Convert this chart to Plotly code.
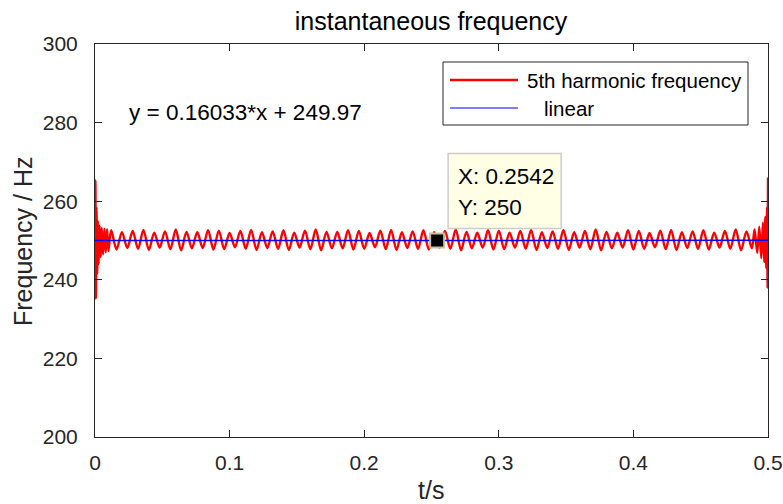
import numpy as np
import plotly.graph_objects as go

# start-up transient of the estimated frequency (t in s, f in Hz)
t_start = [0, 0.0003, 0.0007, 0.0011, 0.0016, 0.0021, 0.0027, 0.0034,
           0.0042, 0.0050, 0.0060, 0.0070, 0.0080, 0.0090, 0.0100]
f_start = [250.0, 265.3, 235.2, 258.5, 241.5, 255.0, 244.0, 253.8,
           245.8, 253.2, 246.5, 253.0, 247.0, 252.9, 247.3]

# steady ripple: peaks and troughs every 4 ms from 12 ms to 488 ms
osc_t0 = 0.012
osc_dt = 0.004
peaks = [252.6, 252.1, 252.4, 252.7, 252.0, 252.3, 252.8, 252.2, 252.1, 252.6,
         252.5, 251.9, 252.4, 252.7, 252.1, 252.3, 252.6, 252.0, 252.5, 252.8,
         252.2, 252.2, 252.6, 252.4, 251.9, 252.5, 252.7, 252.1, 252.3, 252.6,
         252.1, 252.4, 252.8, 252.2, 252.0, 252.6, 252.5, 252.0, 252.4, 252.7,
         252.1, 252.3, 252.7, 252.1, 252.4, 252.8, 252.2, 252.0, 252.6, 252.4,
         251.9, 252.5, 252.7, 252.1, 252.3, 252.6, 252.0, 252.4, 252.8, 252.3]
troughs = [247.7, 248.1, 247.9, 247.6, 248.2, 247.8, 247.5, 248.0, 248.1, 247.7,
           247.8, 248.3, 247.9, 247.6, 248.1, 247.9, 247.6, 248.2, 247.8, 247.5,
           248.0, 248.0, 247.7, 247.9, 248.3, 247.8, 247.6, 248.1, 247.9, 247.7,
           248.2, 247.9, 247.5, 248.0, 248.2, 247.7, 247.8, 248.2, 247.9, 247.6,
           248.1, 247.9, 247.6, 248.2, 247.8, 247.5, 248.0, 248.2, 247.7, 247.9,
           248.3, 247.8, 247.6, 248.1, 247.9, 247.7, 248.2, 247.9, 247.5, 248.0]

# end transient
t_end = [0.4900, 0.4920, 0.4935, 0.4950, 0.4962, 0.4972, 0.4980, 0.4987,
         0.4993, 0.4997, 0.5000]
f_end = [252.8, 246.8, 253.5, 245.5, 254.5, 244.5, 256.0, 243.0,
         258.5, 238.0, 266.0]

# linear fit y = a*x + b
fit_a = 0.16033
fit_b = 249.97
fit_x = [0, 0.5]

# data tip
tip_x = 0.2542
tip_y = 250

osc_f = [v for pair in zip(peaks, troughs) for v in pair]
osc_t = list(osc_t0 + osc_dt * np.arange(len(osc_f)))

t = t_start + osc_t + t_end
f = f_start + osc_f + f_end
fit_y = [fit_a * x + fit_b for x in fit_x]

FONT = "Liberation Sans, Arial, Helvetica, sans-serif"
AX = "#262626"
RED = "#FF0000"
BLUE = "#0000FF"

# plot area in pixels (left, right, top, bottom)
L, R, T, B = 95, 768, 44, 437


def px(x):
    return (x - L) / (R - L)


def py(y):
    return (B - y) / (B - T)


fig = go.Figure()

fig.add_trace(go.Scatter(
    x=t, y=f, mode="lines", name="5th harmonic frequency", showlegend=False,
    line=dict(color=RED, width=2.4, shape="spline", smoothing=0.9),
))
fig.add_trace(go.Scatter(
    x=fit_x, y=fit_y, mode="lines", name="linear", showlegend=False,
    line=dict(color=BLUE, width=1.5),
))
fig.add_trace(go.Scatter(
    x=[tip_x], y=[tip_y], mode="markers", showlegend=False,
    marker=dict(symbol="square", size=14, color="black",
                line=dict(color="#C8C0A0", width=2)),
))

# legend box drawn like MATLAB's (long line samples)
fig.add_shape(type="rect", xref="paper", yref="paper",
              x0=px(443), x1=px(748), y0=py(125), y1=py(62),
              fillcolor="white", line=dict(color=AX, width=1), layer="above")
legend_items = [("5th harmonic frequency", RED, 2.4, 80, 525),
                ("linear", BLUE, 1.2, 108, 542)]
for label, color, lw, yc, xt in legend_items:
    fig.add_shape(type="line", xref="paper", yref="paper",
                  x0=px(450), x1=px(518), y0=py(yc), y1=py(yc),
                  line=dict(color=color, width=lw), layer="above")
    fig.add_annotation(x=px(xt), y=py(yc), xref="paper", yref="paper", text=label,
                       showarrow=False, xanchor="left", yanchor="middle",
                       font=dict(family=FONT, size=20.5, color="black"))

# data tip box
fig.add_shape(type="rect", xref="x", yref="y", xsizemode="pixel", ysizemode="pixel",
              xanchor=tip_x, yanchor=tip_y, x0=11, x1=124, y0=12, y1=87,
              fillcolor="#FFFFE6", line=dict(color="#CCCCCC", width=1.5), layer="above")
fig.add_annotation(x=tip_x, y=tip_y, xref="x", yref="y", text="X: 0.2542",
                   showarrow=False, xanchor="left", yanchor="middle",
                   xshift=19, yshift=64, font=dict(family=FONT, size=22.5, color="black"))
fig.add_annotation(x=tip_x, y=tip_y, xref="x", yref="y", text="Y: 250",
                   showarrow=False, xanchor="left", yanchor="middle",
                   xshift=19, yshift=33, font=dict(family=FONT, size=22.5, color="black"))

# fit equation
fig.add_annotation(x=px(127), y=py(113), xref="paper", yref="paper",
                   text="y = 0.16033*x + 249.97", showarrow=False,
                   xanchor="left", yanchor="middle",
                   font=dict(family=FONT, size=22.5, color="black"))

# axis titles
fig.add_annotation(x=px(23), y=py(241), xref="paper", yref="paper",
                   text="Frequency / Hz", showarrow=False, textangle=-90,
                   xanchor="center", yanchor="middle",
                   font=dict(family=FONT, size=25, color=AX))
fig.add_annotation(x=px(431), y=py(490), xref="paper", yref="paper", text="t/s",
                   showarrow=False, xanchor="center", yanchor="middle",
                   font=dict(family=FONT, size=25, color=AX))

axis_style = dict(showline=True, linecolor=AX, linewidth=1, mirror="ticks",
                  ticks="inside", ticklen=7, tickcolor=AX, showgrid=False,
                  zeroline=False, automargin=False,
                  tickfont=dict(family=FONT, size=21, color=AX))

fig.update_layout(
    width=783, height=504,
    margin=dict(l=L, r=783 - R, t=T, b=504 - B),
    paper_bgcolor="white", plot_bgcolor="white",
    title=dict(text="instantaneous frequency", x=431 / 783, xanchor="center",
               y=1 - 21 / 504, yanchor="middle", yref="container",
               font=dict(family=FONT, size=25, color="black")),
    xaxis=dict(range=[0, 0.5], tickvals=[0, 0.1, 0.2, 0.3, 0.4, 0.5],
               ticktext=["0", "0.1", "0.2", "0.3", "0.4", "0.5"],
               ticklabelstandoff=7, **axis_style),
    yaxis=dict(range=[200, 300], tickvals=[200, 220, 240, 260, 280, 300],
               ticklabelstandoff=12, **axis_style),
    showlegend=False,
)

fig.write_html("out.html", config={"displayModeBar": False},
               post_script="document.body.style.margin='0';")
